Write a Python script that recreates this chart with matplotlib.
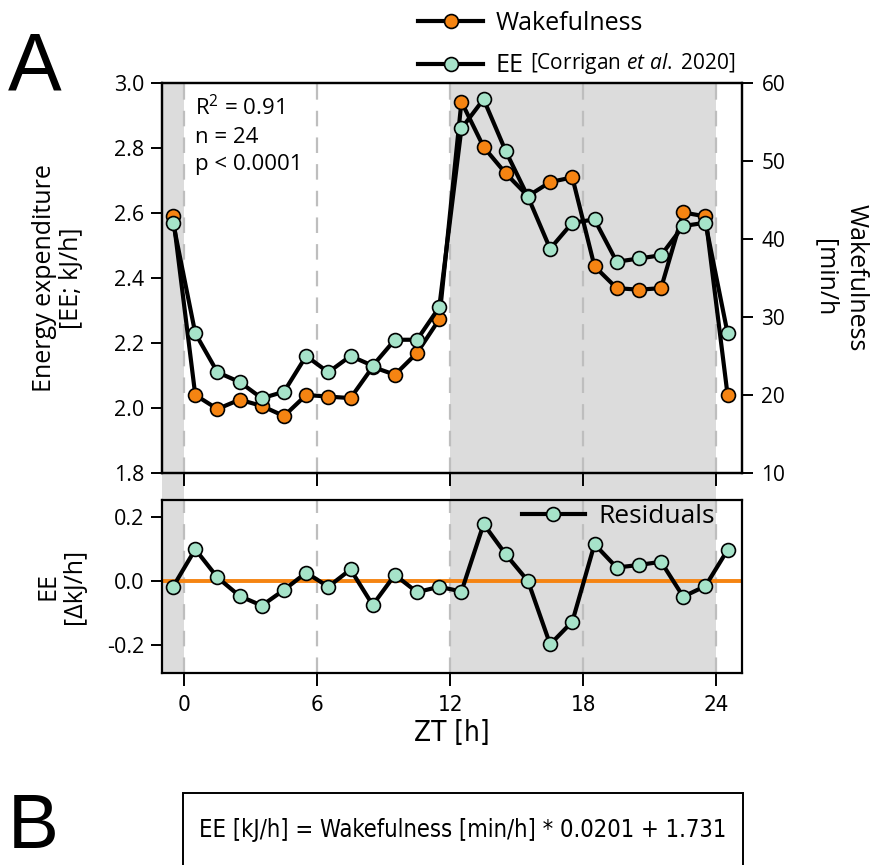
import numpy as np
import matplotlib
matplotlib.use("Agg")
import matplotlib.pyplot as plt
import matplotlib.transforms as mtransforms
from matplotlib.patches import Rectangle

# =========================
# DATA
# =========================
zt = [-0.5, 0.5, 1.5, 2.5, 3.5, 4.5, 5.5, 6.5, 7.5, 8.5, 9.5, 10.5, 11.5,
      12.5, 13.5, 14.5, 15.5, 16.5, 17.5, 18.5, 19.5, 20.5, 21.5, 22.5, 23.5, 24.5]

ee = [2.57, 2.23, 2.11, 2.08, 2.03, 2.05, 2.16, 2.11, 2.16, 2.13, 2.21, 2.21, 2.31,
      2.86, 2.95, 2.79, 2.65, 2.49, 2.57, 2.58, 2.45, 2.46, 2.47, 2.56, 2.57, 2.23]

wake = [42.9, 20.0, 18.2, 19.4, 18.6, 17.3, 20.0, 19.8, 19.6, 23.6, 22.6, 25.4, 29.7,
        57.6, 51.8, 48.4, 45.5, 47.3, 47.9, 36.5, 33.7, 33.5, 33.7, 43.4, 42.9, 20.0]

resid = [-0.018, 0.099, 0.011, -0.047, -0.077, -0.028, 0.026, -0.018, 0.036, -0.075,
         0.019, -0.035, -0.018, -0.033, 0.178, 0.083, 0.0, -0.198, -0.127, 0.115,
         0.042, 0.05, 0.06, -0.049, -0.016, 0.097]

xticks = [0, 6, 12, 18, 24]
dark_spans = [(-1, 0), (12, 24)]

# =========================
# STYLE
# =========================
ORANGE = "#F58412"
MINT = "#A6E3C9"
SHADE = "#DCDCDC"
DASH = "#BEBEBE"
COND = dict(family=["DejaVu Sans"], stretch="condensed")

plt.rcParams["font.family"] = ["Open Sans", "DejaVu Sans"]
plt.rcParams["axes.unicode_minus"] = False
plt.rcParams["mathtext.fontset"] = "custom"
plt.rcParams["mathtext.rm"] = "Open Sans"
plt.rcParams["mathtext.it"] = "Open Sans:italic"
plt.rcParams["axes.linewidth"] = 1.6

W, H = 876, 865
fig = plt.figure(figsize=(W / 100, H / 100), dpi=100)

def px_box(l, t, r, b):
    return [l / W, 1 - b / H, (r - l) / W, (b - t) / H]

ax2 = fig.add_axes(px_box(162, 83, 742, 473))
ax = ax2.twinx()   # EE (left) on top so the green dots sit over orange
ax.yaxis.tick_left()
ax.yaxis.set_label_position("left")
ax2.yaxis.tick_right()
ax2.yaxis.set_label_position("right")
axr = fig.add_axes(px_box(162, 500, 742, 673))

xlim = (-1.0, 25.15)

# shading + dashed ZT lines
for a in (ax2, axr):
    for x0, x1 in dark_spans:
        a.axvspan(x0, x1, color=SHADE, lw=0, zorder=0)
    for xt in xticks:
        a.axvline(xt, color=DASH, lw=1.6, ls=(0, (7, 5)), zorder=0.5)

# shading in the gap between panels
gap_tr = mtransforms.blended_transform_factory(ax2.transData, fig.transFigure)
for x0, x1 in dark_spans:
    fig.add_artist(Rectangle((x0, 1 - 500 / H), x1 - x0, 27 / H, transform=gap_tr,
                             facecolor=SHADE, lw=0, zorder=-1))

# =========================
# TOP PANEL
# =========================
mk = dict(marker="o", markersize=10, markeredgecolor="black", markeredgewidth=1.2,
          color="black", lw=3)
l_w, = ax2.plot(zt, wake, markerfacecolor=ORANGE, zorder=3, **mk)
l_e, = ax.plot(zt, ee, markerfacecolor=MINT, zorder=3, **mk)

ax.set_xlim(*xlim)
ax2.set_xlim(*xlim)
ax.set_ylim(1.8, 3.0)
ax.set_yticks([1.8, 2.0, 2.2, 2.4, 2.6, 2.8, 3.0])
ax.set_yticklabels(["1.8", "2.0", "2.2", "2.4", "2.6", "2.8", "3.0"])
ax2.set_ylim(10, 60)
ax2.set_yticks([10, 20, 30, 40, 50, 60])
ax2.set_xticks(xticks)
ax2.set_xticklabels([])
ax.tick_params(axis="y", direction="out", length=8, width=1.4, labelsize=15.5, pad=5)
ax2.tick_params(axis="y", direction="out", length=8, width=1.4, labelsize=15, pad=6)
ax2.tick_params(axis="x", direction="out", length=9, width=1.4)
ax.tick_params(axis="x", bottom=False, labelbottom=False)

ax.set_ylabel("Energy expenditure\n[EE; kJ/h]", fontsize=18, labelpad=21, linespacing=1.15)
ax2.set_ylabel("Wakefulness\n[min/h", fontsize=18, rotation=270, labelpad=60,
               linespacing=1.3)

ax.text(0.5, 2.962, "R$^2$ = 0.91\nn = 24\np < 0.0001", fontsize=16, va="top",
        ha="left", linespacing=1.38)

leg = fig.legend([l_w, l_e], ["Wakefulness", "EE"], loc="upper left",
                 bbox_to_anchor=(418 / W, 1 - 11 / H), frameon=False, fontsize=18,
                 handlelength=2.6, handletextpad=0.5, labelspacing=0.7,
                 borderaxespad=0, borderpad=0)

# =========================
# RESIDUALS
# =========================
axr.axhline(0, color=ORANGE, lw=2.8, zorder=1)
l_r, = axr.plot(zt, resid, markerfacecolor=MINT, zorder=3, **mk)
axr.set_xlim(*xlim)
axr.set_ylim(-0.2875, 0.253)
axr.set_yticks([-0.2, 0.0, 0.2])
axr.set_yticklabels(["-0.2", "0.0", "0.2"])
axr.set_xticks(xticks)
axr.set_xticklabels([str(t) for t in xticks], fontsize=16, **COND)
axr.tick_params(axis="y", direction="out", length=8, width=1.4, labelsize=15.5, pad=5)
axr.tick_params(axis="x", direction="out", length=9, width=1.4, pad=7)
axr.set_ylabel("EE\n[\u0394kJ/h]", fontsize=18, labelpad=14, linespacing=1.1)
axr.set_xlabel("ZT [h]", fontsize=20, labelpad=3, **COND)
axr.legend([l_r], ["Residuals"], loc="upper right", bbox_to_anchor=(0.955, 0.985),
           frameon=False, fontsize=19, handlelength=2.4, handletextpad=0.5,
           borderaxespad=0.0, borderpad=0.05)

# =========================
# PANEL LETTERS + B
# =========================
fig.text(8 / W, 1 - 90 / H, "A", fontsize=58, family="Liberation Sans", va="baseline")
fig.text(8 / W, 1 / H, "B", fontsize=55, family="Liberation Sans", va="bottom")
fig.add_artist(Rectangle((183 / W, -0.05), 560 / W, 0.05 + 1 - 793 / H,
                         transform=fig.transFigure, facecolor="white",
                         edgecolor="black", lw=1.4))
fig.text(463 / W, 1 - 830 / H, "EE [kJ/h] = Wakefulness [min/h] * 0.0201 + 1.731",
         fontsize=17, ha="center", va="center", **COND)

# citation next to the "EE" legend entry
fig.canvas.draw()
bb = leg.get_texts()[1].get_window_extent()
fig.text((bb.x1 + 6) / W, (bb.y0 + 3) / H, "[Corrigan $\\mathit{et\\ al.}$ 2020]",
         fontsize=15, va="bottom", ha="left")

fig.savefig("out.png", dpi=100)
